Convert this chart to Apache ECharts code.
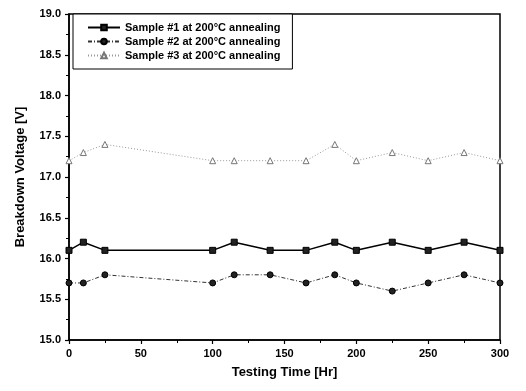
<!DOCTYPE html>
<html>
<head>
<meta charset="utf-8">
<script src="https://cdn.jsdelivr.net/npm/echarts@6/dist/echarts.min.js"></script>
<style>
  html, body { margin: 0; padding: 0; background: #fff; }
  #chart { width: 526px; height: 391px; }
</style>
</head>
<body>
<div id="chart"></div>
<script>
// testing time in hours
const hours = [0, 10, 25, 100, 115, 140, 165, 185, 200, 225, 250, 275, 300];
const sample1 = [16.1, 16.2, 16.1, 16.1, 16.2, 16.1, 16.1, 16.2, 16.1, 16.2, 16.1, 16.2, 16.1];
const sample2 = [15.7, 15.7, 15.8, 15.7, 15.8, 15.8, 15.7, 15.8, 15.7, 15.6, 15.7, 15.8, 15.7];
const sample3 = [17.2, 17.3, 17.4, 17.2, 17.2, 17.2, 17.2, 17.4, 17.2, 17.3, 17.2, 17.3, 17.2];
const names = [
  'Sample #1 at 200°C annealing',
  'Sample #2 at 200°C annealing',
  'Sample #3 at 200°C annealing'
];

const pairs = ys => hours.map((h, i) => [h, ys[i]]);
const font = 'Arial, "Liberation Sans", sans-serif';

const axisCommon = {
  axisLine: { show: true, lineStyle: { color: '#000', width: 1.5 } },
  axisTick: { show: true, length: 4, lineStyle: { color: '#000', width: 1.2 } },
  minorTick: { show: true, splitNumber: 2, length: 3, lineStyle: { color: '#000' } },
  splitLine: { show: false },
  axisLabel: { color: '#000', fontWeight: 'bold', fontSize: 11, fontFamily: font },
  nameTextStyle: { color: '#000', fontWeight: 'bold', fontSize: 13, fontFamily: font }
};

const option = {
  backgroundColor: '#fff',
  animation: false,
  grid: {
    left: 69, right: 26, top: 14, bottom: 51,
    show: true, borderColor: '#000', borderWidth: 1.5
  },
  legend: {
    orient: 'vertical',
    left: 73, top: 14,
    itemGap: 3,
    itemWidth: 32, itemHeight: 7,
    padding: [8, 12, 8, 14],
    borderColor: '#000', borderWidth: 1,
    backgroundColor: '#fff',
    textStyle: { color: '#000', fontWeight: 'bold', fontSize: 11, fontFamily: font },
    data: names
  },
  xAxis: Object.assign({}, axisCommon, {
    type: 'value',
    min: 0, max: 300, interval: 50,
    name: 'Testing Time [Hr]',
    nameLocation: 'middle',
    nameGap: 26
  }),
  yAxis: Object.assign({}, axisCommon, {
    type: 'value',
    min: 15, max: 19, interval: 0.5,
    name: 'Breakdown Voltage [V]',
    nameLocation: 'middle',
    nameGap: 42,
    axisLabel: Object.assign({}, axisCommon.axisLabel, {
      formatter: v => v.toFixed(1)
    })
  }),
  series: [
    {
      name: names[0], type: 'line', data: pairs(sample1),
      symbol: 'rect', symbolSize: 6,
      itemStyle: { color: '#222', borderColor: '#000', borderWidth: 1 },
      lineStyle: { color: '#000', width: 1.5, type: 'solid' }
    },
    {
      name: names[1], type: 'line', data: pairs(sample2),
      symbol: 'circle', symbolSize: 6,
      itemStyle: { color: '#222', borderColor: '#000', borderWidth: 1 },
      lineStyle: { color: '#333', width: 1, type: [4, 2, 1, 2] }
    },
    {
      name: names[2], type: 'line', data: pairs(sample3),
      symbol: 'triangle', symbolSize: 6,
      itemStyle: { color: '#fff', borderColor: '#777', borderWidth: 1 },
      lineStyle: { color: '#999', width: 1, type: [1, 2] }
    }
  ]
};

const myChart = echarts.init(document.getElementById('chart'));
myChart.setOption(option);
</script>
</body>
</html>
